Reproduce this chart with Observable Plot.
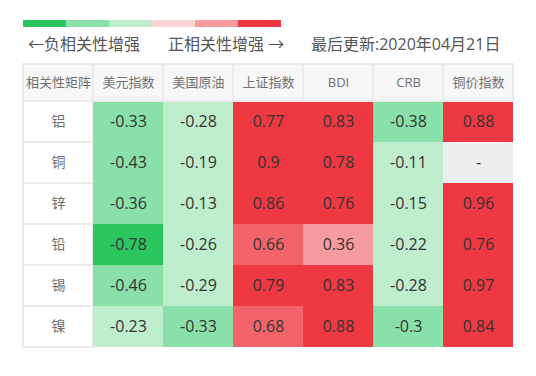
<!DOCTYPE html>
<html><head><meta charset="utf-8">
<script src="https://cdn.jsdelivr.net/npm/d3@7"></script>
<script src="https://cdn.jsdelivr.net/npm/@observablehq/plot@0.6"></script>
<style>
body{margin:0;background:#fff;font-family:"Open Sans","Noto Sans CJK SC",sans-serif;}
#wrap{position:relative;width:536px;height:376px;overflow:hidden;background:#fff}
.abs{position:absolute;left:0}
.lbl{position:absolute;top:33px;font-size:16px;line-height:22px;color:#555;white-space:nowrap}
</style></head><body><div id="wrap"></div>
<script>
const rows = ["铝", "铜", "锌", "铅", "锡", "镍"];
const cols = ["美元指数", "美国原油", "上证指数", "BDI", "CRB", "铜价指数"];
const corner = "相关性矩阵";
const values = [
  [-0.33, -0.28, 0.77, 0.83, -0.38, 0.88],
  [-0.43, -0.19, 0.9, 0.78, -0.11, null],
  [-0.36, -0.13, 0.86, 0.76, -0.15, 0.96],
  [-0.78, -0.26, 0.66, 0.36, -0.22, 0.76],
  [-0.46, -0.29, 0.79, 0.83, -0.28, 0.97],
  [-0.23, -0.33, 0.68, 0.88, -0.3, 0.84]
];
const thresholds = [-0.6, -0.299, 0, 0.3, 0.6, 0.7];
const palette = ["#2cc660", "#8ae0a9", "#bfeecf", "#fad4d4", "#f69ba0", "#f2636a", "#ef3942"];
const legendColors = ["#2cc660", "#8ae0a9", "#bfeecf", "#fad4d4", "#f69ba0", "#ef3942"];
const legendLeft = "←负相关性增强";
const legendRight = "正相关性增强 →";
const updated = "最后更新:2020年04月21日";

const font = '"Open Sans", "Noto Sans CJK SC", sans-serif';
const wrap = document.getElementById("wrap");
const cells = rows.flatMap((r, i) => cols.map((c, j) => ({row: r, col: c, value: values[i][j]})));
const xDomain = [corner, ...cols];
const xScale = {domain: xDomain, padding: 0, axis: null};

function place(el, top) {
  el.classList.add("abs");
  el.style.top = top + "px";
  wrap.appendChild(el);
}

// legend bar
const legend = Plot.plot({
  width: 536, height: 7,
  marginLeft: 20, marginRight: 253, marginTop: 0, marginBottom: 0,
  x: {type: "band", domain: d3.range(legendColors.length), padding: 0, axis: null},
  marks: [Plot.cell(legendColors, {x: (d, i) => i, fill: d => d})]
});
place(legend, 20);

[[legendLeft, 28], [legendRight, 168], [updated, 311]].forEach(([t, x]) => {
  const s = document.createElement("div");
  s.className = "lbl";
  s.style.left = x + "px";
  s.textContent = t;
  wrap.appendChild(s);
});

// header row
const header = Plot.plot({
  width: 536, height: 37,
  marginLeft: 20, marginRight: 21, marginTop: 0, marginBottom: 0,
  style: {fontFamily: font, overflow: "visible", background: "transparent"},
  x: xScale,
  marks: [
    Plot.cell(xDomain, {x: d => d, fill: "#f7f7f7", stroke: "#ebebeb", strokeWidth: 2}),
    Plot.text(xDomain, {x: d => d, text: d => d, fontSize: 13, fill: "#707070"})
  ]
});

// body
const body = Plot.plot({
  width: 536, height: 246,
  marginLeft: 20, marginRight: 21, marginTop: 0, marginBottom: 0,
  style: {fontFamily: font, overflow: "visible", background: "transparent"},
  x: xScale,
  y: {domain: rows, padding: 0, axis: null},
  color: {type: "threshold", domain: thresholds, range: palette},
  marks: [
    Plot.cell(rows, {x: () => corner, y: d => d, fill: "white", stroke: "#ebebeb", strokeWidth: 2}),
    Plot.text(rows, {x: () => corner, y: d => d, text: d => d, fontSize: 14, fill: "#707070"}),
    Plot.cell(cells, {x: "col", y: "row", fill: "#eeeeee"}),
    Plot.cell(cells.filter(d => d.value != null), {x: "col", y: "row", fill: "value"}),
    Plot.text(cells, {x: "col", y: "row", text: d => d.value == null ? "-" : String(d.value), fontSize: 16, fill: "#333"})
  ]
});
place(body, 101);
place(header, 64);
</script>
</body></html>
